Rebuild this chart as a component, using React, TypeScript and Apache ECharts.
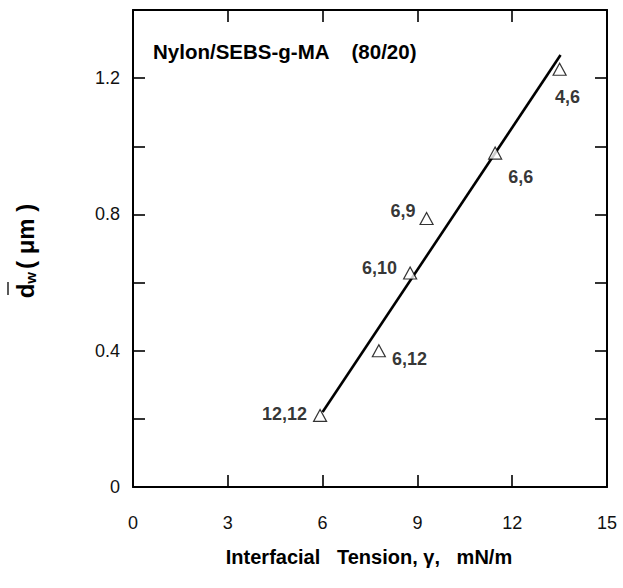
import React, { useEffect, useRef } from "react";
import * as echarts from "echarts";

// Interfacial tension (mN/m) and weight-average particle size (µm)
const nylonLabels = ["12,12", "6,12", "6,10", "6,9", "6,6", "4,6"];
const tensionX = [5.92, 7.78, 8.77, 9.29, 11.46, 13.5];
const sizeDw = [0.21, 0.4, 0.628, 0.788, 0.98, 1.226];

// Fitted line endpoints
const fitX = [6.0, 13.53];
const fitY = [0.22, 1.268];

const xTicks = [0, 3, 6, 9, 12, 15];
const yTickLabels = ["0", "0.4", "0.8", "1.2"];

const FONT = "'Liberation Sans', Arial, Helvetica, sans-serif";

// label placement (style only)
const labelPlace: any[] = [
  { position: "left", distance: 6, offset: [0, -1] },
  { position: "right", distance: 6, offset: [0, 8] },
  { position: "left", distance: 6, offset: [0, -5] },
  { position: "left", distance: 4, offset: [0, -8] },
  { position: "right", distance: 2, offset: [4, 24] },
  { position: "bottom", distance: 12, offset: [8, 0] },
];

export default function App() {
  const ref = useRef<HTMLDivElement>(null);
  useEffect(() => {
    if (!ref.current) return;
    const chart = echarts.init(ref.current, undefined, { renderer: "svg" });
    const axisLine = { show: true, onZero: false, lineStyle: { color: "#000", width: 2 } };
    const tick = { show: true, inside: true, length: 12, lineStyle: { color: "#000", width: 1.6 } };
    const points = tensionX.map((x, i) => ({
      value: [x, sizeDw[i]],
      label: {
        show: true,
        formatter: nylonLabels[i],
        ...labelPlace[i],
      },
    }));
    chart.setOption({
      animation: false,
      backgroundColor: "#fff",
      grid: { left: 133, right: 16, top: 10, bottom: 101 },
      xAxis: [
        {
          type: "value",
          min: 0,
          max: 15,
          interval: 3,
          position: "bottom",
          axisLine,
          axisTick: tick,
          splitLine: { show: false },
          axisLabel: {
            color: "#111",
            fontSize: 18,
            fontFamily: FONT,
            margin: 27,
            formatter: (v: number) => (xTicks.includes(v) ? String(v) : ""),
          },
        },
        {
          type: "value",
          min: 0,
          max: 15,
          interval: 3,
          position: "top",
          axisLine,
          axisTick: tick,
          splitLine: { show: false },
          axisLabel: { show: false },
        },
      ],
      yAxis: [
        {
          type: "value",
          min: 0,
          max: 1.4,
          interval: 0.2,
          position: "left",
          axisLine,
          axisTick: tick,
          splitLine: { show: false },
          axisLabel: {
            color: "#111",
            fontSize: 18,
            fontFamily: FONT,
            margin: 13,
            formatter: (v: number) => {
              const k = Math.round(v * 10);
              return k % 4 === 0 ? yTickLabels[k / 4] ?? "" : "";
            },
          },
        },
        {
          type: "value",
          min: 0,
          max: 1.4,
          interval: 0.2,
          position: "right",
          axisLine,
          axisTick: tick,
          splitLine: { show: false },
          axisLabel: { show: false },
        },
      ],
      series: [
        {
          type: "line",
          data: fitX.map((x, i) => [x, fitY[i]]),
          showSymbol: false,
          lineStyle: { color: "#000", width: 2.6 },
          z: 2,
        },
        {
          type: "scatter",
          data: points,
          symbol: "triangle",
          symbolSize: [13, 12],
          itemStyle: { color: "#fff", borderColor: "#000", borderWidth: 1.2 },
          label: {
            color: "#000",
            fontSize: 18,
            fontWeight: "bold",
            fontFamily: FONT,
          },
          z: 3,
        },
      ],
      graphic: [
        {
          type: "text",
          left: 153,
          top: 41,
          style: {
            text: "Nylon/SEBS-g-MA    (80/20)",
            fill: "#000",
            font: `bold 20.5px ${FONT}`,
          },
        },
        {
          type: "text",
          x: 369,
          y: 557,
          style: {
            text: "Interfacial   Tension, γ,   mN/m",
            fill: "#000",
            font: `bold 20px ${FONT}`,
            align: "center",
            verticalAlign: "middle",
          },
        },
        {
          type: "group",
          x: 25,
          y: 251,
          rotation: Math.PI / 2,
          children: [
            {
              type: "text",
              x: 0,
              y: 0,
              style: {
                text: "{d|d}{w|w}{n|( μm )}",
                fill: "#000",
                align: "center",
                verticalAlign: "middle",
                rich: {
                  d: { font: `bold 24px ${FONT}`, fill: "#000" },
                  w: { font: `bold 15px ${FONT}`, fill: "#000", padding: [10, 3, 0, 0] },
                  n: { font: `bold 24px ${FONT}`, fill: "#000" },
                },
              },
            },
            {
              type: "line",
              shape: { x1: -44, y1: -17, x2: -31, y2: -17 },
              style: { stroke: "#000", lineWidth: 1.3 },
            },
          ],
        },
      ],
    });
    return () => chart.dispose();
  }, []);
  return (
    <div
      ref={ref}
      style={{ position: "fixed", left: 0, top: 0, width: 623, height: 588 }}
    />
  );
}
